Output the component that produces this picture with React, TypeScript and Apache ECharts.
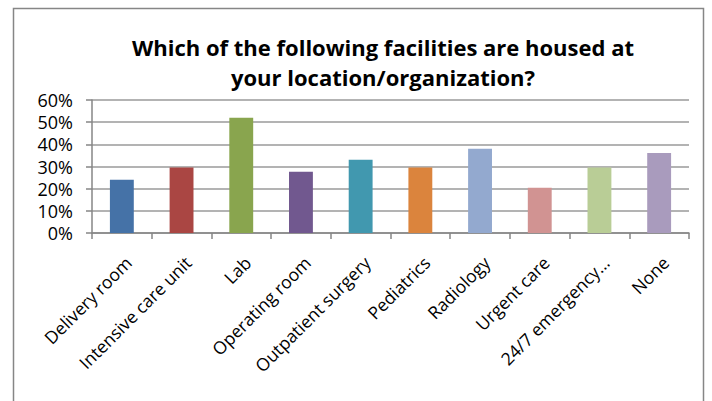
import React, { useEffect, useRef } from "react";
import * as echarts from "echarts";

const titleText = "Which of the following facilities are housed at\nyour location/organization?";
const categories = [
  "Delivery room",
  "Intensive care unit",
  "Lab",
  "Operating room",
  "Outpatient surgery",
  "Pediatrics",
  "Radiology",
  "Urgent care",
  "24/7 emergency…",
  "None",
];
const values = [0.24, 0.295, 0.52, 0.276, 0.33, 0.295, 0.38, 0.204, 0.295, 0.361];
const barColors = [
  "#4572A7", "#AA4643", "#89A54E", "#71588F", "#4198AF",
  "#DB843D", "#93A9CF", "#D19392", "#B9CD96", "#A99BBD",
];
const yTicks = { min: 0, max: 0.6, interval: 0.1 };

export default function App() {
  const ref = useRef<HTMLDivElement>(null);
  useEffect(() => {
    if (!ref.current) return;
    document.body.style.margin = "0";
    const chart = echarts.init(ref.current, null, { renderer: "svg" });
    const font = "'Open Sans', 'DejaVu Sans', sans-serif";
    chart.setOption({
      animation: false,
      backgroundColor: "#ffffff",
      title: {
        text: titleText,
        left: 378,
        textAlign: "center",
        top: 27,
        textStyle: {
          fontFamily: font,
          fontWeight: "bold",
          fontSize: 22,
          lineHeight: 30,
          color: "#000000",
        },
      },
      graphic: [
        {
          type: "rect",
          shape: { x: 13.5, y: 8.5, width: 690, height: 420 },
          style: { fill: "none", stroke: "#868686", lineWidth: 1.5 },
          silent: true,
        },
      ],
      grid: { left: 92, right: 23, top: 100, bottom: 168, containLabel: false },
      xAxis: {
        type: "category",
        data: categories,
        axisLine: { lineStyle: { color: "#868686", width: 1.5 } },
        axisTick: { show: true, alignWithLabel: false, length: 6, lineStyle: { color: "#868686", width: 1.5 } },
        axisLabel: {
          rotate: 45,
          interval: 0,
          margin: 20,
          verticalAlign: "top",
          fontFamily: font,
          fontSize: 17.5,
          color: "#000000",
        },
        splitLine: { show: false },
      },
      yAxis: {
        type: "value",
        min: yTicks.min,
        max: yTicks.max,
        interval: yTicks.interval,
        axisLine: { show: true, lineStyle: { color: "#868686", width: 1.5 } },
        axisTick: { show: true, length: 6, lineStyle: { color: "#868686", width: 1.5 } },
        axisLabel: {
          margin: 19,
          fontFamily: font,
          fontSize: 18,
          color: "#000000",
          formatter: (v: number) => Math.round(v * 100) + "%",
        },
        splitLine: { show: true, lineStyle: { color: "#9a9a9a", width: 1.5 } },
      },
      series: [
        {
          type: "bar",
          data: values.map((v, i) => ({ value: v, itemStyle: { color: barColors[i] } })),
          barWidth: "40%",
        },
      ],
    });
    return () => chart.dispose();
  }, []);
  return <div ref={ref} style={{ position: "absolute", left: 0, top: 0, width: 712, height: 401 }} />;
}
